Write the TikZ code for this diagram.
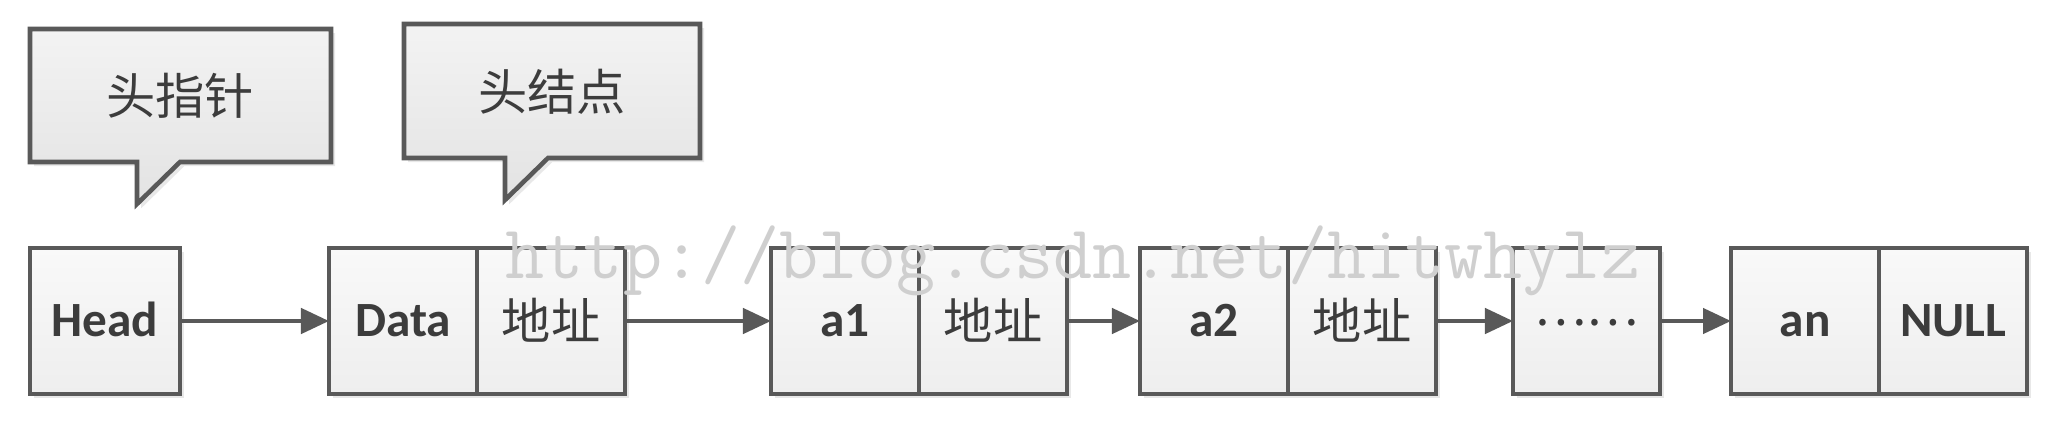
\documentclass[tikz,border=0pt]{standalone}
\usepackage{fontspec}
\setmainfont{Carlito}
\newfontfamily\cjk{Noto Sans CJK SC}
\usetikzlibrary{arrows.meta,shadows}
\definecolor{linec}{HTML}{595959}
\definecolor{txtc}{HTML}{3C3C3C}
\definecolor{wmc}{HTML}{CFCFCF}
\definecolor{celltop}{HTML}{F9F9F9}
\definecolor{cellbot}{HTML}{EEEEEE}
\definecolor{calltop}{HTML}{F3F3F3}
\definecolor{callbot}{HTML}{E3E3E3}
\begin{document}
\begin{tikzpicture}[x=0.01cm,y=-0.01cm,
  cell/.style={draw=linec, line width=1.3pt, top color=celltop, bottom color=cellbot,
    minimum width=1.48cm, minimum height=1.46cm, inner sep=0pt, outer sep=0pt,
    text height=10pt, text depth=1pt,
    text=txtc, font=\fontsize{14}{16}\selectfont\bfseries,
    drop shadow={shadow xshift=1.2pt, shadow yshift=-1.2pt, opacity=0.18}},
  cjkcell/.style={cell, font=\fontsize{14}{16}\selectfont\cjk, text height=12pt, text depth=1.4pt},
  dotcell/.style={cjkcell, text height=2.5pt, text depth=0pt},
  callout/.style={draw=linec, line width=1.3pt, top color=calltop, bottom color=callbot,
    line join=miter,
    drop shadow={shadow xshift=1.2pt, shadow yshift=-1.2pt, opacity=0.18}},
  calltext/.style={text=txtc, font=\fontsize{14}{16}\selectfont\cjk, inner sep=0pt},
  arr/.style={draw=linec, line width=1.3pt, -{Triangle[length=2.8mm,width=2.5mm]}},
  wm/.style={text=wmc, font=\fontsize{21.6}{23}\selectfont\ttfamily, inner sep=0pt, anchor=base west}]
\useasboundingbox[fill=white] (0,0) rectangle (2066,436);

% callouts
\path[callout] (30,29) -- (331,29) -- (331,162) -- (180,162) -- (137,204) -- (137,162) -- (30,162) -- cycle;
\node[calltext] (c1) at (180,96) {头指针};
\path[callout] (404,24) -- (700,24) -- (700,158) -- (548,158) -- (505,200) -- (505,158) -- (404,158) -- cycle;
\node[calltext] (c2) at (552,92) {头结点};

% list nodes
\node[cell, minimum width=1.5cm] (head) at (105,321) {Head};
\node[cell, anchor=west] (d0) at (329,321) {Data};
\node[cjkcell, anchor=west] (p0) at (d0.east) {地址};
\node[cell, anchor=west] (d1) at (771,321) {a1};
\node[cjkcell, anchor=west] (p1) at (d1.east) {地址};
\node[cell, anchor=west] (d2) at (1140,321) {a2};
\node[cjkcell, anchor=west] (p2) at (d2.east) {地址};
\node[dotcell, anchor=west, minimum width=1.47cm] (dots) at (1513,321) {……};
\node[cell, anchor=west] (dn) at (1731,321) {an};
\node[cell, anchor=west] (pn) at (dn.east) {NULL};

% connectors
\draw[arr] (head) -- (d0);
\draw[arr] (p0) -- (d1);
\draw[arr] (p1) -- (d2);
\draw[arr] (p2) -- (dots);
\draw[arr] (dots) -- (dn);

% watermark
\node[wm] (wmk) at (505,278) {http://blog.csdn.net/hitwhylz};
\end{tikzpicture}
\end{document}
